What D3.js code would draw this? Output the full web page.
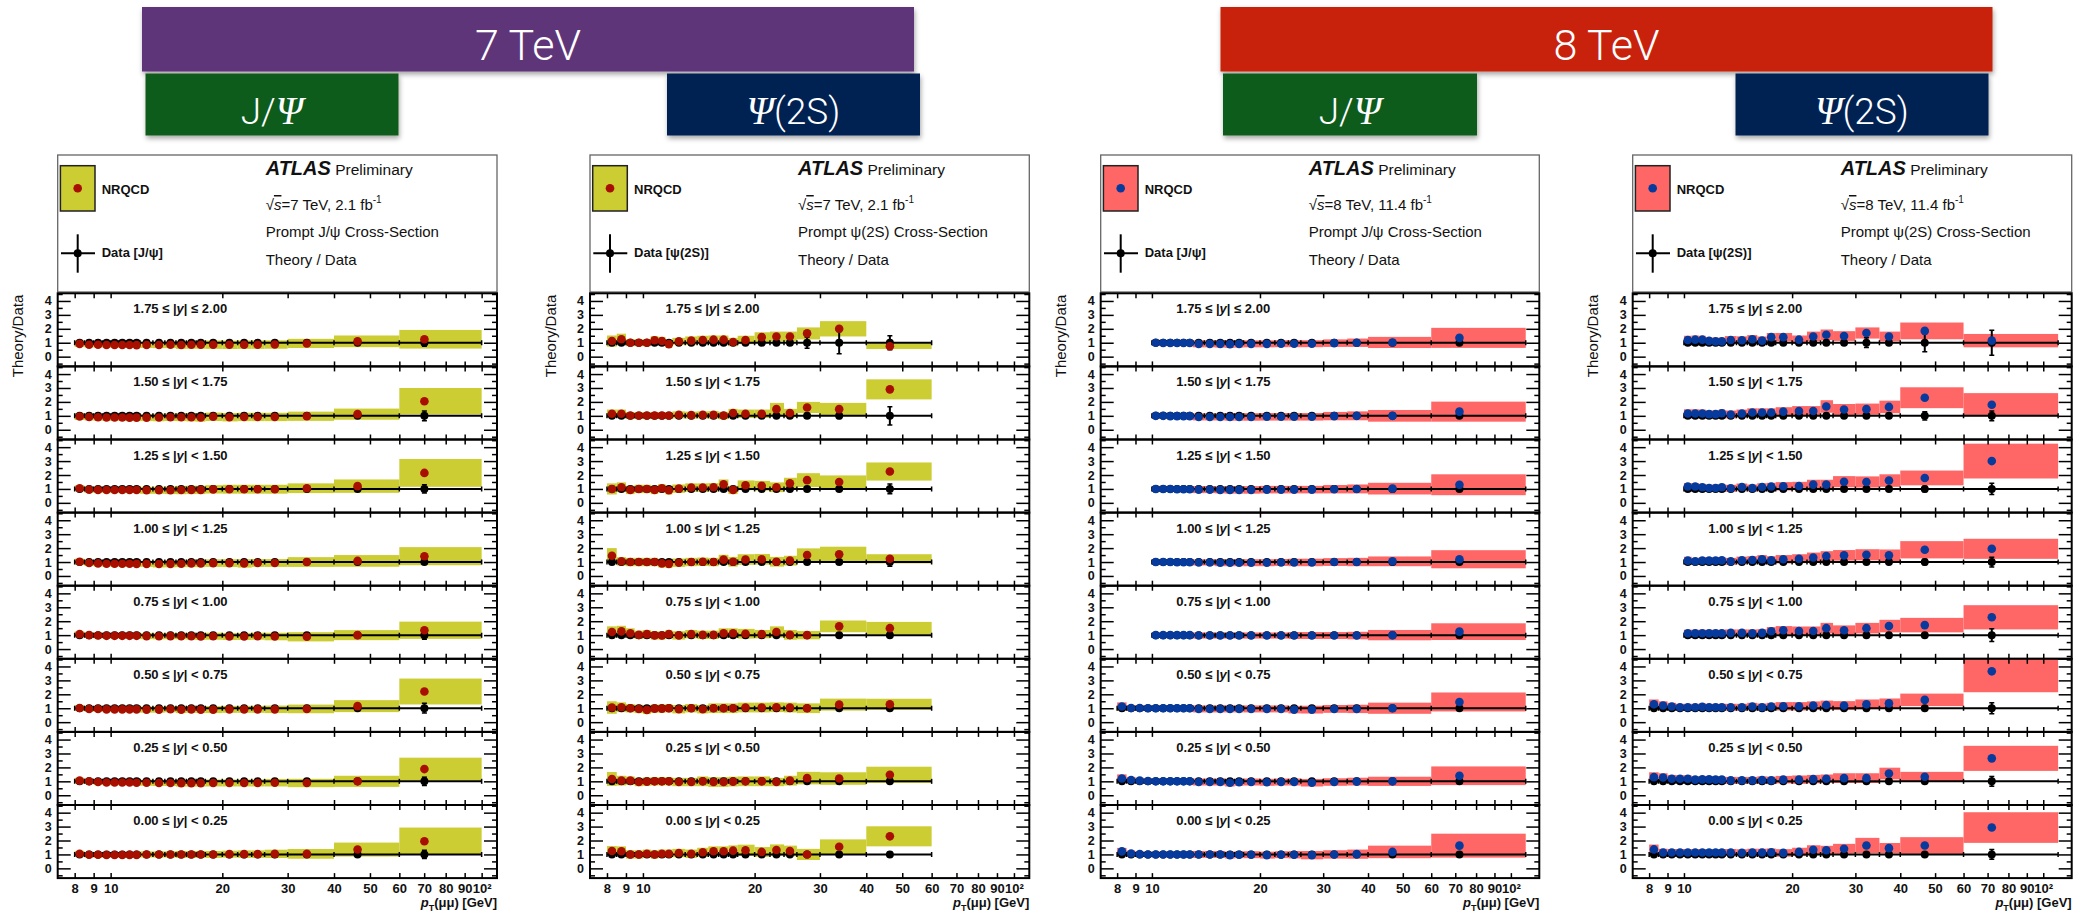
<!DOCTYPE html>
<html><head><meta charset="utf-8">
<script src="https://cdn.jsdelivr.net/npm/d3@7"></script>
<style>
body{margin:0;background:#fff;}
svg{display:block;font-family:"Liberation Sans",Arial,Helvetica,sans-serif;}
</style>
</head><body>
<svg id="chart"></svg>
<script>
// ---------------- DATA ----------------
const ptEdges7TeV = [8,8.5,9,9.5,10,10.5,11,11.5,12,13,14,15,16,17,18,20,22,24,26,30,40,60,100];
const ptMean7TeV  = [8.25,8.75,9.25,9.75,10.25,10.75,11.25,11.75,12.5,13.5,14.5,15.5,16.5,17.5,18.9,20.9,22.9,24.9,27.7,33.8,46.3,70.1];
const ptEdges8TeV = [8,8.5,9,9.5,10,10.5,11,11.5,12,12.5,13,14,15,16,17,18,20,22,24,26,30,35,40,60,110];
const ptMean8TeV  = [8.25,8.75,9.25,9.75,10.25,10.75,11.25,11.75,12.25,12.75,13.5,14.5,15.5,16.5,17.5,18.9,20.9,22.9,24.9,27.9,32.2,37.2,46.8,71.9];

const rapidityLow  = ["1.75","1.50","1.25","1.00","0.75","0.50","0.25","0.00"];
const rapidityHigh = ["2.00","1.75","1.50","1.25","1.00","0.75","0.50","0.25"];
const firstBin7TeV = [0,0,0,0,0,0,0,0];
const firstBin8TeV = [4,4,4,4,4,0,0,0];

const xTickValues = [8,9,10,20,30,40,50,60,70,80,90,100];
const yMajorTicks = [0,1,2,3,4];
const yMinorTicks = [-0.5,0.5,1.5,2.5,3.5,4.5];

// 7 TeV J/psi : NRQCD / data central, band half-width, data error
const nrqcdJpsi7 = [
 [0.92,0.86,0.86,0.84,0.84,0.84,0.84,0.83,0.84,0.84,0.85,0.84,0.85,0.85,0.86,0.85,0.86,0.86,0.87,0.95,1.10,1.25],
 [0.95,0.92,0.90,0.88,0.88,0.88,0.87,0.87,0.87,0.88,0.90,0.90,0.90,0.88,0.93,0.90,0.92,0.92,0.92,0.97,1.12,2.05],
 [1.05,0.95,0.93,0.92,0.92,0.92,0.92,0.92,0.90,0.90,0.90,0.92,0.93,0.93,0.97,0.98,0.98,0.98,0.98,1.05,1.20,2.15],
 [1.02,0.93,0.90,0.88,0.88,0.88,0.88,0.87,0.87,0.86,0.87,0.88,0.90,0.90,0.92,0.92,0.90,0.93,0.93,1.00,1.08,1.42],
 [1.07,1.00,0.97,0.95,0.95,0.95,0.95,0.95,0.93,0.92,0.93,0.92,0.92,0.90,0.92,0.90,0.90,0.92,0.90,0.88,1.00,1.35],
 [1.02,0.95,0.95,0.92,0.92,0.92,0.92,0.92,0.90,0.90,0.93,0.90,0.92,0.90,0.90,0.92,0.92,0.92,0.92,0.95,1.15,2.20],
 [1.05,1.00,0.95,0.92,0.92,0.92,0.92,0.90,0.90,0.88,0.88,0.87,0.87,0.87,0.88,0.88,0.88,0.88,0.90,0.88,1.00,1.88],
 [1.05,0.98,0.98,0.96,0.96,0.96,0.97,0.97,1.00,1.00,1.00,1.00,1.00,1.00,1.00,1.02,1.02,1.02,1.04,1.04,1.35,1.95]
];
const bandJpsi7 = [
 [0.22,0.20,0.20,0.20,0.20,0.20,0.20,0.20,0.22,0.23,0.24,0.28,0.28,0.28,0.30,0.30,0.30,0.30,0.30,0.33,0.42,0.67],
 [0.25,0.25,0.25,0.25,0.25,0.25,0.25,0.25,0.25,0.27,0.27,0.28,0.30,0.30,0.30,0.30,0.30,0.30,0.30,0.33,0.40,0.95],
 [0.20,0.22,0.22,0.22,0.22,0.22,0.22,0.22,0.25,0.25,0.27,0.30,0.30,0.30,0.30,0.32,0.32,0.32,0.32,0.35,0.48,1.00],
 [0.22,0.22,0.22,0.22,0.22,0.22,0.22,0.22,0.22,0.25,0.25,0.25,0.27,0.27,0.27,0.28,0.30,0.28,0.28,0.35,0.42,0.65],
 [0.20,0.20,0.20,0.20,0.20,0.20,0.20,0.20,0.22,0.22,0.22,0.22,0.25,0.25,0.25,0.25,0.25,0.25,0.27,0.33,0.36,0.62],
 [0.20,0.20,0.20,0.20,0.20,0.20,0.20,0.20,0.22,0.22,0.22,0.25,0.25,0.25,0.25,0.25,0.25,0.25,0.27,0.31,0.43,0.93],
 [0.20,0.20,0.20,0.20,0.20,0.20,0.20,0.20,0.22,0.22,0.22,0.25,0.25,0.25,0.25,0.25,0.25,0.25,0.27,0.30,0.40,0.82],
 [0.20,0.20,0.20,0.20,0.20,0.20,0.20,0.20,0.22,0.22,0.22,0.25,0.25,0.25,0.25,0.25,0.27,0.27,0.30,0.35,0.50,0.98]
];
const errJpsi7 = [
 [0.04,0.04,0.04,0.04,0.04,0.04,0.04,0.04,0.04,0.04,0.04,0.05,0.05,0.05,0.05,0.05,0.06,0.06,0.07,0.08,0.12,0.25],
 [0.04,0.04,0.04,0.04,0.04,0.04,0.04,0.04,0.04,0.04,0.04,0.05,0.05,0.05,0.05,0.05,0.06,0.06,0.07,0.08,0.10,0.35],
 [0.04,0.04,0.04,0.04,0.04,0.04,0.04,0.04,0.04,0.04,0.04,0.05,0.05,0.05,0.05,0.05,0.06,0.06,0.07,0.08,0.10,0.30],
 [0.04,0.04,0.04,0.04,0.04,0.04,0.04,0.04,0.04,0.04,0.04,0.05,0.05,0.05,0.05,0.05,0.06,0.06,0.07,0.08,0.08,0.15],
 [0.04,0.04,0.04,0.04,0.04,0.04,0.04,0.04,0.04,0.04,0.04,0.05,0.05,0.05,0.05,0.05,0.06,0.06,0.07,0.08,0.10,0.30],
 [0.04,0.04,0.04,0.04,0.04,0.04,0.04,0.04,0.04,0.04,0.04,0.05,0.05,0.05,0.05,0.05,0.06,0.06,0.07,0.08,0.10,0.35],
 [0.04,0.04,0.04,0.04,0.04,0.04,0.04,0.04,0.04,0.04,0.04,0.05,0.05,0.05,0.05,0.05,0.06,0.06,0.07,0.08,0.10,0.30],
 [0.04,0.04,0.04,0.04,0.04,0.04,0.04,0.04,0.04,0.04,0.04,0.05,0.05,0.05,0.05,0.05,0.06,0.06,0.07,0.08,0.10,0.30]
];

// 7 TeV psi(2S)
const nrqcdPsi7 = [
 [1.12,1.25,1.00,1.00,1.00,1.18,1.12,0.90,1.10,1.15,1.20,1.22,1.22,1.05,1.20,1.40,1.45,1.45,1.67,2.00,0.75],
 [1.15,1.15,1.02,1.02,1.02,1.02,1.02,1.02,1.07,1.05,1.07,1.07,1.02,1.20,1.15,1.15,1.48,1.20,1.60,1.48,2.90],
 [1.00,1.12,0.93,1.00,1.00,0.93,1.05,0.90,1.02,1.10,1.10,1.12,1.33,0.93,1.26,1.23,1.12,1.40,1.63,1.50,2.25],
 [1.45,1.05,1.00,1.00,1.00,1.00,0.90,0.87,0.95,1.00,1.02,1.00,1.17,1.02,1.18,1.20,1.02,1.10,1.50,1.55,1.23],
 [1.23,1.27,1.14,1.02,1.07,0.98,0.97,1.07,0.98,1.07,1.02,1.02,1.14,1.14,1.10,1.07,1.23,1.02,1.00,1.63,1.50],
 [1.05,1.07,1.00,0.95,0.88,0.97,0.97,1.00,0.93,1.00,0.93,1.00,1.00,1.00,1.05,1.05,1.07,1.05,1.00,1.26,1.28],
 [1.17,1.05,1.05,0.95,0.98,1.00,1.00,1.00,0.95,0.95,1.00,0.95,0.95,0.98,1.00,1.00,0.95,1.05,1.23,1.20,1.47],
 [1.25,1.23,1.00,1.00,1.05,1.00,1.05,1.05,1.10,1.05,1.16,1.23,1.23,1.27,1.30,1.18,1.32,1.25,1.00,1.55,2.30]
];
const bandPsi7 = [
 [0.40,0.40,0.25,0.25,0.25,0.30,0.30,0.25,0.25,0.30,0.30,0.30,0.30,0.30,0.30,0.35,0.35,0.35,0.43,0.55,0.20],
 [0.30,0.30,0.25,0.25,0.25,0.25,0.25,0.25,0.25,0.25,0.25,0.27,0.27,0.30,0.30,0.30,0.45,0.30,0.40,0.45,0.72],
 [0.40,0.35,0.30,0.30,0.30,0.30,0.30,0.30,0.30,0.30,0.30,0.30,0.35,0.30,0.35,0.35,0.35,0.40,0.50,0.47,0.65],
 [0.55,0.30,0.30,0.30,0.30,0.30,0.30,0.30,0.30,0.30,0.30,0.30,0.35,0.35,0.38,0.38,0.35,0.35,0.48,0.55,0.33],
 [0.40,0.40,0.35,0.30,0.30,0.30,0.30,0.30,0.30,0.30,0.30,0.30,0.35,0.35,0.35,0.30,0.40,0.35,0.30,0.42,0.45],
 [0.45,0.35,0.30,0.30,0.30,0.30,0.30,0.30,0.30,0.30,0.30,0.35,0.35,0.35,0.35,0.35,0.35,0.35,0.35,0.43,0.40],
 [0.50,0.35,0.30,0.30,0.30,0.30,0.30,0.30,0.30,0.30,0.35,0.35,0.35,0.35,0.35,0.35,0.30,0.35,0.45,0.45,0.58],
 [0.35,0.35,0.30,0.30,0.30,0.30,0.30,0.30,0.30,0.30,0.32,0.35,0.35,0.38,0.40,0.35,0.40,0.38,0.40,0.53,0.72]
];
const errPsi7 = [
 [0.06,0.06,0.06,0.06,0.06,0.06,0.06,0.06,0.06,0.06,0.07,0.07,0.08,0.08,0.08,0.10,0.12,0.12,0.40,0.80,0.50],
 [0.05,0.05,0.05,0.05,0.05,0.05,0.05,0.05,0.05,0.05,0.06,0.06,0.06,0.07,0.07,0.08,0.10,0.12,0.15,0.20,0.65],
 [0.05,0.05,0.05,0.05,0.05,0.05,0.05,0.05,0.05,0.05,0.06,0.06,0.06,0.07,0.07,0.08,0.10,0.12,0.15,0.15,0.35],
 [0.05,0.05,0.05,0.05,0.05,0.05,0.05,0.05,0.05,0.05,0.06,0.06,0.06,0.07,0.07,0.08,0.10,0.10,0.12,0.12,0.30],
 [0.05,0.05,0.05,0.05,0.05,0.05,0.05,0.05,0.05,0.05,0.06,0.06,0.06,0.07,0.07,0.08,0.08,0.08,0.10,0.10,0.15],
 [0.05,0.05,0.05,0.05,0.05,0.05,0.05,0.05,0.05,0.05,0.06,0.06,0.06,0.07,0.07,0.07,0.08,0.08,0.08,0.10,0.12],
 [0.05,0.05,0.05,0.05,0.05,0.05,0.05,0.05,0.05,0.05,0.06,0.06,0.06,0.07,0.07,0.07,0.08,0.08,0.08,0.10,0.12],
 [0.05,0.05,0.05,0.05,0.05,0.05,0.05,0.05,0.05,0.05,0.06,0.06,0.06,0.07,0.07,0.07,0.08,0.08,0.08,0.10,0.15]
];

// 8 TeV J/psi (rows with |y|>=0.75 start at 10 GeV)
const nrqcdJpsi8 = [
 [1.00,0.98,0.98,0.98,0.98,0.98,0.92,0.92,0.92,0.90,0.92,0.92,0.92,0.93,0.93,0.93,0.97,1.00,1.02,1.35],
 [1.00,1.00,0.98,0.98,0.98,0.98,0.92,0.92,0.92,0.92,0.92,0.92,0.93,0.93,0.93,0.93,0.98,1.00,1.00,1.30],
 [1.00,1.00,1.00,0.98,0.98,0.98,0.95,0.95,0.93,0.93,0.93,0.93,0.95,0.95,0.95,0.95,0.98,1.00,1.02,1.30],
 [1.00,1.00,1.00,0.98,0.98,0.98,0.97,0.97,0.95,0.95,0.95,0.95,0.95,0.97,0.97,0.97,1.00,1.00,1.05,1.20],
 [1.00,1.00,1.00,1.00,1.00,1.00,0.97,0.97,0.97,0.97,0.97,0.97,0.97,0.97,0.97,0.97,0.97,0.97,1.00,1.25],
 [1.12,1.02,1.02,1.00,1.00,1.00,1.00,1.00,1.00,1.00,0.95,0.95,0.95,0.95,0.95,0.95,0.95,0.95,0.90,0.90,0.95,0.95,1.00,1.45],
 [1.20,1.10,1.05,1.02,1.00,1.00,1.00,1.00,1.00,1.00,0.95,0.95,0.95,0.90,0.93,0.95,0.93,0.95,0.95,0.90,0.95,0.98,1.00,1.40],
 [1.22,1.07,1.02,1.00,1.00,1.00,1.00,1.00,1.00,1.00,1.00,1.00,1.00,0.95,0.98,0.98,0.95,0.98,0.98,0.95,1.00,1.02,1.18,1.63]
];
const bandJpsi8 = [
 [0.22,0.22,0.22,0.22,0.22,0.22,0.25,0.25,0.27,0.27,0.27,0.25,0.25,0.25,0.25,0.25,0.27,0.30,0.40,0.72],
 [0.22,0.22,0.22,0.22,0.22,0.22,0.25,0.25,0.25,0.27,0.27,0.27,0.27,0.27,0.27,0.27,0.30,0.32,0.42,0.72],
 [0.22,0.22,0.22,0.22,0.22,0.22,0.25,0.25,0.25,0.27,0.27,0.27,0.27,0.27,0.27,0.27,0.30,0.32,0.42,0.75],
 [0.20,0.20,0.20,0.20,0.20,0.20,0.22,0.22,0.25,0.25,0.25,0.25,0.25,0.25,0.27,0.27,0.28,0.30,0.35,0.65],
 [0.20,0.20,0.20,0.20,0.20,0.20,0.22,0.22,0.22,0.22,0.22,0.22,0.22,0.22,0.25,0.25,0.25,0.27,0.37,0.60],
 [0.30,0.20,0.20,0.20,0.20,0.20,0.20,0.20,0.20,0.20,0.25,0.25,0.25,0.25,0.25,0.25,0.25,0.25,0.27,0.28,0.28,0.30,0.40,0.68],
 [0.30,0.22,0.20,0.20,0.20,0.20,0.20,0.20,0.20,0.20,0.25,0.25,0.25,0.27,0.25,0.25,0.25,0.25,0.25,0.27,0.27,0.28,0.33,0.67],
 [0.25,0.20,0.20,0.20,0.20,0.20,0.20,0.20,0.20,0.20,0.25,0.25,0.25,0.25,0.25,0.25,0.25,0.25,0.27,0.30,0.30,0.33,0.45,0.86]
];
const errJpsi8 = [
 [0.03,0.03,0.03,0.03,0.03,0.03,0.03,0.03,0.03,0.03,0.03,0.03,0.03,0.03,0.04,0.04,0.05,0.06,0.08,0.12],
 [0.03,0.03,0.03,0.03,0.03,0.03,0.03,0.03,0.03,0.03,0.03,0.03,0.03,0.03,0.04,0.04,0.05,0.06,0.08,0.12],
 [0.03,0.03,0.03,0.03,0.03,0.03,0.03,0.03,0.03,0.03,0.03,0.03,0.03,0.03,0.04,0.04,0.05,0.06,0.08,0.12],
 [0.03,0.03,0.03,0.03,0.03,0.03,0.03,0.03,0.03,0.03,0.03,0.03,0.03,0.03,0.04,0.04,0.05,0.06,0.08,0.12],
 [0.03,0.03,0.03,0.03,0.03,0.03,0.03,0.03,0.03,0.03,0.03,0.03,0.03,0.03,0.04,0.04,0.05,0.06,0.08,0.12],
 [0.04,0.03,0.03,0.03,0.03,0.03,0.03,0.03,0.03,0.03,0.03,0.03,0.03,0.03,0.03,0.03,0.03,0.03,0.04,0.04,0.05,0.06,0.08,0.12],
 [0.04,0.03,0.03,0.03,0.03,0.03,0.03,0.03,0.03,0.03,0.03,0.03,0.03,0.03,0.03,0.03,0.03,0.03,0.04,0.04,0.05,0.06,0.08,0.12],
 [0.04,0.03,0.03,0.03,0.03,0.03,0.03,0.03,0.03,0.03,0.03,0.03,0.03,0.03,0.03,0.03,0.03,0.03,0.04,0.04,0.05,0.06,0.08,0.12]
];

// 8 TeV psi(2S)
const nrqcdPsi8 = [
 [1.20,1.22,1.22,1.13,1.10,1.10,1.20,1.18,1.25,1.15,1.40,1.40,1.22,1.45,1.57,1.48,1.70,1.45,1.85,1.15],
 [1.17,1.17,1.17,1.12,1.12,1.19,1.10,1.17,1.24,1.24,1.24,1.30,1.35,1.35,1.67,1.45,1.48,1.64,2.30,1.80],
 [1.17,1.17,1.12,1.07,1.07,1.12,1.05,1.14,1.07,1.14,1.17,1.19,1.21,1.31,1.31,1.52,1.50,1.60,1.79,3.00],
 [1.10,1.05,1.10,1.10,1.10,1.12,1.05,1.12,1.15,1.20,1.12,1.20,1.24,1.33,1.43,1.48,1.52,1.48,1.88,1.95],
 [1.14,1.14,1.14,1.14,1.14,1.14,1.16,1.16,1.14,1.16,1.28,1.35,1.30,1.30,1.50,1.35,1.50,1.65,1.72,2.28],
 [1.28,1.20,1.12,1.07,1.07,1.07,1.10,1.07,1.07,1.07,1.07,1.07,1.12,1.07,1.12,1.14,1.14,1.19,1.23,1.19,1.28,1.35,1.60,3.65],
 [1.30,1.28,1.19,1.19,1.19,1.12,1.14,1.14,1.12,1.12,1.07,1.07,1.07,1.09,1.07,1.12,1.12,1.16,1.19,1.23,1.23,1.56,1.33,2.65],
 [1.36,1.14,1.14,1.14,1.14,1.14,1.14,1.14,1.14,1.14,1.14,1.12,1.14,1.14,1.16,1.11,1.18,1.34,1.30,1.41,1.64,1.45,1.64,2.93]
];
const bandPsi8 = [
 [0.30,0.30,0.28,0.28,0.27,0.27,0.28,0.28,0.30,0.30,0.30,0.30,0.30,0.35,0.38,0.35,0.40,0.35,0.60,0.48],
 [0.30,0.30,0.28,0.28,0.28,0.28,0.28,0.28,0.30,0.30,0.30,0.32,0.35,0.35,0.45,0.40,0.40,0.45,0.75,0.83],
 [0.25,0.25,0.25,0.25,0.25,0.25,0.25,0.25,0.25,0.27,0.27,0.30,0.30,0.35,0.35,0.40,0.40,0.45,0.53,1.25],
 [0.28,0.25,0.25,0.25,0.25,0.25,0.25,0.27,0.27,0.30,0.30,0.30,0.32,0.35,0.35,0.38,0.40,0.42,0.62,0.72],
 [0.25,0.25,0.25,0.25,0.25,0.25,0.25,0.25,0.27,0.27,0.30,0.30,0.32,0.32,0.38,0.35,0.38,0.45,0.52,0.87],
 [0.35,0.30,0.27,0.25,0.25,0.25,0.25,0.25,0.25,0.25,0.25,0.25,0.27,0.27,0.27,0.30,0.30,0.30,0.32,0.32,0.35,0.35,0.45,1.50],
 [0.35,0.30,0.27,0.25,0.25,0.25,0.25,0.25,0.25,0.25,0.25,0.25,0.25,0.27,0.27,0.27,0.30,0.30,0.30,0.35,0.35,0.42,0.35,0.90],
 [0.35,0.27,0.25,0.25,0.25,0.25,0.25,0.25,0.25,0.25,0.25,0.25,0.27,0.27,0.27,0.27,0.30,0.32,0.32,0.35,0.55,0.37,0.60,1.10]
];
const errPsi8 = [
 [0.05,0.05,0.05,0.05,0.05,0.05,0.05,0.05,0.06,0.06,0.06,0.07,0.08,0.08,0.10,0.12,0.35,0.15,0.65,0.90],
 [0.05,0.05,0.05,0.05,0.05,0.05,0.05,0.05,0.06,0.06,0.06,0.07,0.08,0.08,0.10,0.10,0.12,0.15,0.30,0.35],
 [0.05,0.05,0.05,0.05,0.05,0.05,0.05,0.05,0.06,0.06,0.06,0.07,0.08,0.08,0.10,0.10,0.10,0.12,0.20,0.40],
 [0.05,0.05,0.05,0.05,0.05,0.05,0.05,0.05,0.06,0.06,0.06,0.07,0.08,0.08,0.08,0.10,0.10,0.12,0.20,0.35],
 [0.05,0.05,0.05,0.05,0.05,0.05,0.05,0.05,0.06,0.06,0.06,0.07,0.08,0.08,0.08,0.10,0.10,0.10,0.15,0.45],
 [0.05,0.05,0.05,0.05,0.05,0.05,0.05,0.05,0.05,0.05,0.05,0.05,0.06,0.06,0.06,0.07,0.07,0.08,0.08,0.08,0.10,0.10,0.12,0.40],
 [0.05,0.05,0.05,0.05,0.05,0.05,0.05,0.05,0.05,0.05,0.05,0.05,0.06,0.06,0.06,0.07,0.07,0.08,0.08,0.08,0.10,0.10,0.12,0.35],
 [0.05,0.05,0.05,0.05,0.05,0.05,0.05,0.05,0.05,0.05,0.05,0.05,0.06,0.06,0.06,0.07,0.07,0.08,0.08,0.08,0.10,0.10,0.12,0.35]
];

// ---------------- LAYOUT ----------------
const W = 2087, H = 917;
const svg = d3.select("#chart").attr("width", W).attr("height", H);
svg.append("rect").attr("width", W).attr("height", H).attr("fill", "#fff");
const defs = svg.append("defs");
defs.append("filter").attr("id", "shadow")
  .attr("x", "-5%").attr("y", "-10%").attr("width", "110%").attr("height", "140%")
  .append("feDropShadow").attr("dx", 1).attr("dy", 3).attr("stdDeviation", 2.5)
  .attr("flood-color", "#000").attr("flood-opacity", 0.35);

const headerFont = "Roboto, 'Liberation Sans', sans-serif";
const serifFont = "'Liberation Serif', 'DejaVu Serif', serif";
const headers = [
  {x:142,    y:7,    w:772, h:64.5, fill:"#5e3479", parts:[["7 TeV",false]], size:43, base:60},
  {x:145.5,  y:73.5, w:253, h:62,   fill:"#0f5c1b", parts:[["J/",false],["Ψ",true]], size:37, base:124},
  {x:667,    y:73.5, w:253, h:62,   fill:"#022452", parts:[["Ψ",true],["(2S)",false]], size:37, base:124},
  {x:1220.5, y:7,    w:772, h:64.5, fill:"#c8240c", parts:[["8 TeV",false]], size:43, base:60},
  {x:1223,   y:73.5, w:254, h:62,   fill:"#0f5c1b", parts:[["J/",false],["Ψ",true]], size:37, base:124},
  {x:1735.5, y:73.5, w:253, h:62,   fill:"#022452", parts:[["Ψ",true],["(2S)",false]], size:37, base:124}
];
headers.forEach(hd => {
  svg.append("rect").attr("x", hd.x).attr("y", hd.y).attr("width", hd.w).attr("height", hd.h)
    .attr("fill", hd.fill).attr("filter", "url(#shadow)");
  const t = svg.append("text").attr("x", hd.x + hd.w / 2).attr("y", hd.base)
    .attr("text-anchor", "middle").attr("fill", "#fff")
    .style("font-family", headerFont).style("font-weight", 300).style("font-size", hd.size + "px");
  hd.parts.forEach(([s, it]) => {
    const ts = t.append("tspan").text(s);
    if (it) ts.style("font-style", "italic").style("font-family", serifFont).style("font-weight", 400).style("font-size", (hd.size + 2) + "px");
  });
});

const legendTop = 155, legendH = 137, subTop = 293.3, subH = 73.1;
const yDomain = [-0.7, 4.55];

const panels = [
  {left:57.7,   width:439.3, xMax:110, edges:ptEdges7TeV, mean:ptMean7TeV, first:firstBin7TeV,
   theory:nrqcdJpsi7, band:bandJpsi7, err:errJpsi7, bandColor:"#cccc33", ptColor:"#a80f00",
   dataLabel:"J/ψ", energy:"7 TeV, 2.1 fb", process:"J/ψ"},
  {left:590,    width:439.3, xMax:110, edges:ptEdges7TeV, mean:ptMean7TeV, first:firstBin7TeV,
   theory:nrqcdPsi7, band:bandPsi7, err:errPsi7, bandColor:"#cccc33", ptColor:"#a80f00",
   dataLabel:"ψ(2S)", energy:"7 TeV, 2.1 fb", process:"ψ(2S)"},
  {left:1100.7, width:438.6, xMax:120, edges:ptEdges8TeV, mean:ptMean8TeV, first:firstBin8TeV,
   theory:nrqcdJpsi8, band:bandJpsi8, err:errJpsi8, bandColor:"#ff6666", ptColor:"#063a9c",
   dataLabel:"J/ψ", energy:"8 TeV, 11.4 fb", process:"J/ψ"},
  {left:1632.7, width:439,   xMax:120, edges:ptEdges8TeV, mean:ptMean8TeV, first:firstBin8TeV,
   theory:nrqcdPsi8, band:bandPsi8, err:errPsi8, bandColor:"#ff6666", ptColor:"#063a9c",
   dataLabel:"ψ(2S)", energy:"8 TeV, 11.4 fb", process:"ψ(2S)"}
];

function styleAxis(sel, showText) {
  sel.select(".domain").remove();
  sel.selectAll(".tick line").attr("stroke", "#000").attr("stroke-width", 1.5);
  if (showText) {
    sel.selectAll(".tick text").attr("fill", "#111")
      .style("font-family", "'Liberation Sans', Arial, sans-serif")
      .style("font-weight", "bold").style("font-size", "12.5px");
  } else {
    sel.selectAll(".tick text").remove();
  }
}

panels.forEach((p, pi) => {
  const L = p.left, R = p.left + p.width;
  const x = d3.scaleLog().domain([7.2, p.xMax]).range([L, R]);
  const g = svg.append("g");

  // ---- legend / info box ----
  g.append("rect").attr("x", L).attr("y", legendTop).attr("width", p.width).attr("height", legendH)
    .attr("fill", "#fff").attr("stroke", "#666").attr("stroke-width", 1.3);
  g.append("rect").attr("x", L + 2.7).attr("y", 165.7).attr("width", 34.6).attr("height", 45.3)
    .attr("fill", p.bandColor).attr("stroke", "#222").attr("stroke-width", 1.5);
  g.append("circle").attr("cx", L + 20).attr("cy", 188.3).attr("r", 4.3).attr("fill", p.ptColor);
  g.append("text").attr("x", L + 44).attr("y", 194.3).text("NRQCD")
    .style("font-weight", "bold").style("font-size", "13px").attr("fill", "#111");
  g.append("line").attr("x1", L + 20).attr("x2", L + 20).attr("y1", 234.3).attr("y2", 272.7)
    .attr("stroke", "#000").attr("stroke-width", 2);
  g.append("line").attr("x1", L + 3.3).attr("x2", L + 37.3).attr("y1", 253.3).attr("y2", 253.3)
    .attr("stroke", "#000").attr("stroke-width", 2);
  g.append("circle").attr("cx", L + 20).attr("cy", 253.3).attr("r", 4).attr("fill", "#000");
  g.append("text").attr("x", L + 44).attr("y", 257.3).text(`Data [${p.dataLabel}]`)
    .style("font-weight", "bold").style("font-size", "13px").attr("fill", "#111");

  const tx = L + 208;
  const atl = g.append("text").attr("x", tx).attr("y", 175).attr("fill", "#111");
  atl.append("tspan").text("ATLAS").style("font-weight", "bold").style("font-style", "italic").style("font-size", "20px");
  atl.append("tspan").text(" Preliminary").style("font-size", "15.5px");
  const en = g.append("text").attr("x", tx).attr("y", 210).attr("fill", "#111").style("font-size", "15px");
  en.append("tspan").text("√");
  en.append("tspan").text("s").style("font-style", "italic").style("text-decoration", "overline");
  en.append("tspan").text("=" + p.energy);
  en.append("tspan").text("-1").attr("dy", -7).style("font-size", "10px");
  g.append("text").attr("x", tx).attr("y", 237.3).attr("fill", "#111").style("font-size", "15px")
    .text(`Prompt ${p.process} Cross-Section`);
  g.append("text").attr("x", tx).attr("y", 265).attr("fill", "#111").style("font-size", "15px")
    .text("Theory / Data");

  // y-axis title
  g.append("text").attr("transform", `translate(${L - 34.5},336) rotate(-90)`)
    .attr("text-anchor", "middle").style("font-size", "15px").attr("fill", "#111").text("Theory/Data");

  // ---- rapidity sub-panels ----
  rapidityLow.forEach((lo, r) => {
    const top = subTop + r * subH;
    const y = d3.scaleLinear().domain(yDomain).range([top + subH, top]);
    const cid = `clip${pi}_${r}`;
    defs.append("clipPath").attr("id", cid).append("rect")
      .attr("x", L).attr("y", top).attr("width", p.width).attr("height", subH);
    const sg = g.append("g");
    const cg = sg.append("g").attr("clip-path", `url(#${cid})`);
    const off = p.first[r];
    const bins = p.theory[r].map((v, i) => ({
      lo: p.edges[off + i], hi: p.edges[off + i + 1], m: p.mean[off + i],
      t: v, b: p.band[r][i], e: p.err[r][i]
    }));

    // NRQCD bands
    cg.append("g").selectAll("rect").data(bins).join("rect")
      .attr("x", d => x(d.lo)).attr("width", d => x(d.hi) - x(d.lo))
      .attr("y", d => y(d.t + d.b)).attr("height", d => y(d.t - d.b) - y(d.t + d.b))
      .attr("fill", p.bandColor);

    // data: x error bars at 1
    const dg = cg.append("g").attr("stroke", "#000");
    dg.append("g").selectAll("line").data(bins).join("line")
      .attr("x1", d => x(d.lo)).attr("x2", d => x(d.hi))
      .attr("y1", y(1)).attr("y2", y(1)).attr("stroke-width", 2);
    const edgesUsed = [bins[0].lo].concat(bins.map(d => d.hi));
    dg.append("g").selectAll("line").data(edgesUsed).join("line")
      .attr("x1", d => x(d)).attr("x2", d => x(d))
      .attr("y1", y(1) - 2.5).attr("y2", y(1) + 2.5).attr("stroke-width", 1.5);
    // vertical error
    dg.append("g").selectAll("line").data(bins).join("line")
      .attr("x1", d => x(d.m)).attr("x2", d => x(d.m))
      .attr("y1", d => y(1 + d.e)).attr("y2", d => y(1 - d.e)).attr("stroke-width", 2);
    const capData = bins.flatMap(d => [1 + d.e, 1 - d.e].map(v => ({m: d.m, v})));
    dg.append("g").selectAll("line").data(capData).join("line")
      .attr("x1", d => x(d.m) - 2.5).attr("x2", d => x(d.m) + 2.5)
      .attr("y1", d => y(d.v)).attr("y2", d => y(d.v)).attr("stroke-width", 1.5);
    cg.append("g").selectAll("circle").data(bins).join("circle")
      .attr("cx", d => x(d.m)).attr("cy", y(1)).attr("r", 4).attr("fill", "#000");

    // NRQCD points
    cg.append("g").selectAll("circle").data(bins).join("circle")
      .attr("cx", d => x(d.m)).attr("cy", d => y(d.t)).attr("r", 4.3).attr("fill", p.ptColor);

    // axes ticks
    const ax1 = sg.append("g").attr("transform", `translate(${L},0)`)
      .call(d3.axisLeft(y).tickValues(yMajorTicks).tickSizeInner(-13).tickSizeOuter(0).tickPadding(6).tickFormat(d3.format("d")));
    styleAxis(ax1, true);
    const ax2 = sg.append("g").attr("transform", `translate(${L},0)`)
      .call(d3.axisLeft(y).tickValues(yMinorTicks).tickSizeInner(-5).tickSizeOuter(0));
    styleAxis(ax2, false);
    const ax3 = sg.append("g").attr("transform", `translate(${R},0)`)
      .call(d3.axisRight(y).tickValues(yMajorTicks).tickSizeInner(-13).tickSizeOuter(0));
    styleAxis(ax3, false);
    const ax4 = sg.append("g").attr("transform", `translate(${R},0)`)
      .call(d3.axisRight(y).tickValues(yMinorTicks).tickSizeInner(-5).tickSizeOuter(0));
    styleAxis(ax4, false);
    const ax5 = sg.append("g").attr("transform", `translate(0,${top})`)
      .call(d3.axisTop(x).tickValues(xTickValues).tickSizeInner(-5).tickSizeOuter(0));
    styleAxis(ax5, false);
    const last = r === rapidityLow.length - 1;
    const ax6 = sg.append("g").attr("transform", `translate(0,${top + subH})`)
      .call(d3.axisBottom(x).tickValues(xTickValues).tickSizeInner(-5).tickSizeOuter(0).tickPadding(6)
        .tickFormat(d => d === 100 ? "10²" : String(d)));
    styleAxis(ax6, last);
    if (last) ax6.selectAll(".tick text").style("font-size", "13px");

    // frame
    sg.append("rect").attr("x", L).attr("y", top).attr("width", p.width).attr("height", subH)
      .attr("fill", "none").attr("stroke", "#000").attr("stroke-width", 2);

    // rapidity label
    const rl = sg.append("text").attr("x", L + 75.6).attr("y", top + 20).attr("fill", "#111")
      .style("font-weight", "bold").style("font-size", "13px");
    rl.append("tspan").text(`${lo} ≤ |`);
    rl.append("tspan").text("y").style("font-style", "italic");
    rl.append("tspan").text(`| ${r === 0 ? "≤" : "<"} ${rapidityHigh[r]}`);
  });

  // x-axis title
  const xt = g.append("text").attr("x", R).attr("y", 906.5).attr("text-anchor", "end")
    .attr("fill", "#111").style("font-weight", "bold").style("font-size", "13px");
  xt.append("tspan").text("p").style("font-style", "italic");
  xt.append("tspan").text("T").attr("dy", 4).style("font-size", "9px");
  xt.append("tspan").text("(μμ) [GeV]").attr("dy", -4);
});
</script>
</body></html>
